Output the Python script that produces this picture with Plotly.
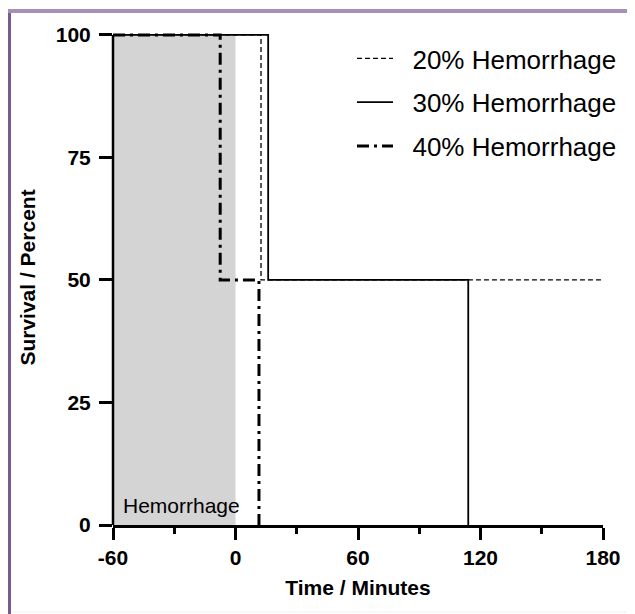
import plotly.graph_objects as go

# ---- data ----
series_names = ["20% Hemorrhage", "30% Hemorrhage", "40% Hemorrhage"]
t_20 = [-60, 12.5, 180]
s_20 = [100, 50, 50]
t_30 = [-60, 16, 114]
s_30 = [100, 50, 0]
t_40 = [-60, -7.5, 11.5]
s_40 = [100, 50, 0]
x_ticks = [-60, 0, 60, 120, 180]
y_ticks = [0, 25, 50, 75, 100]
hemorrhage_window = [-60, 0]

FONT = "Liberation Sans, Arial, Helvetica, sans-serif"
NB = "\u00a0\u00a0"

# layout geometry (page has an 8px body margin)
OFF = 8
W, H = 635 - OFF, 614 - OFF
L, R, T, B = 105, 32, 22, 89
PW = W - L - R
PH = H - T - B


def px_x(p):
    return (p - OFF - L) / PW


def px_y(p):
    return (H - B - (p - OFF)) / PH


fig = go.Figure()

fig.add_trace(go.Scatter(
    x=t_20, y=s_20, mode="lines", name=NB + series_names[0], line_shape="hv",
    line=dict(color="black", width=1.3, dash="5px,3px"), legendgroup="a"))
fig.add_trace(go.Scatter(
    x=t_30, y=s_30, mode="lines", name=NB + series_names[1], line_shape="hv",
    line=dict(color="black", width=1.8), legendgroup="b"))
fig.add_trace(go.Scatter(
    x=t_40, y=s_40, mode="lines", name=NB + series_names[2], line_shape="hv",
    line=dict(color="black", width=3, dash="12px,5px,3px,5px"), legendgroup="c"))

shapes = [
    # hemorrhage window
    dict(type="rect", xref="x", yref="y", x0=hemorrhage_window[0], x1=hemorrhage_window[1],
         y0=0, y1=100, fillcolor="#d4d4d4", line=dict(width=0), layer="below"),
    # y axis line (stops at 100)
    dict(type="line", xref="paper", yref="y", x0=0, x1=0, y0=0, y1=100,
         line=dict(color="black", width=2.5)),
    # frame decoration
    dict(type="rect", xref="paper", yref="paper", x0=px_x(8), x1=px_x(11), y0=px_y(9), y1=px_y(614),
         fillcolor="#7b5a8c", line=dict(width=0)),
    dict(type="rect", xref="paper", yref="paper", x0=px_x(8), x1=px_x(635), y0=px_y(9), y1=px_y(13),
         fillcolor="#a78fb6", line=dict(width=0)),
    dict(type="line", xref="paper", yref="paper", x0=px_x(12), x1=px_x(635), y0=px_y(612), y1=px_y(612),
         line=dict(color="#eeeeee", width=1)),
]

fig.update_layout(
    width=W, height=H,
    margin=dict(l=L, r=R, t=T, b=B),
    paper_bgcolor="white", plot_bgcolor="white",
    font=dict(family=FONT, color="black"),
    shapes=shapes,
    showlegend=True,
    legend=dict(x=px_x(352), y=px_y(35), xanchor="left", yanchor="top",
                font=dict(size=26, family=FONT, color="black"),
                itemwidth=36, traceorder="grouped", tracegroupgap=7,
                bgcolor="rgba(0,0,0,0)", borderwidth=0),
    annotations=[dict(text="Hemorrhage", x=-56, y=4, xref="x", yref="y",
                      xanchor="left", yanchor="middle", showarrow=False,
                      font=dict(size=21, family=FONT, color="black"))],
)

fig.update_xaxes(
    range=[-60, 180], tickvals=x_ticks, ticktext=[str(v) for v in x_ticks],
    showline=True, linecolor="black", linewidth=2.5,
    ticks="outside", ticklen=12, tickwidth=2.5, tickcolor="black",
    minor=dict(dtick=30, tick0=-60, ticks="outside", ticklen=6, tickwidth=2.5, tickcolor="black"),
    showgrid=False, zeroline=False,
    tickfont=dict(size=21, family=FONT, weight="bold", color="black"),
    title=dict(text="Time / Minutes", font=dict(size=21, family=FONT, weight="bold", color="black"),
               standoff=13),
)
fig.update_yaxes(
    range=[0, 101], tickvals=y_ticks, ticktext=[str(v) for v in y_ticks],
    showline=False,
    ticks="outside", ticklen=13, tickwidth=2.5, tickcolor="black",
    showgrid=False, zeroline=False,
    tickfont=dict(size=21, family=FONT, weight="bold", color="black"),
    ticklabelstandoff=4,
    title=dict(text="Survival / Percent", font=dict(size=21, family=FONT, weight="bold", color="black"),
               standoff=14),
)

fig.write_html("out.html")
